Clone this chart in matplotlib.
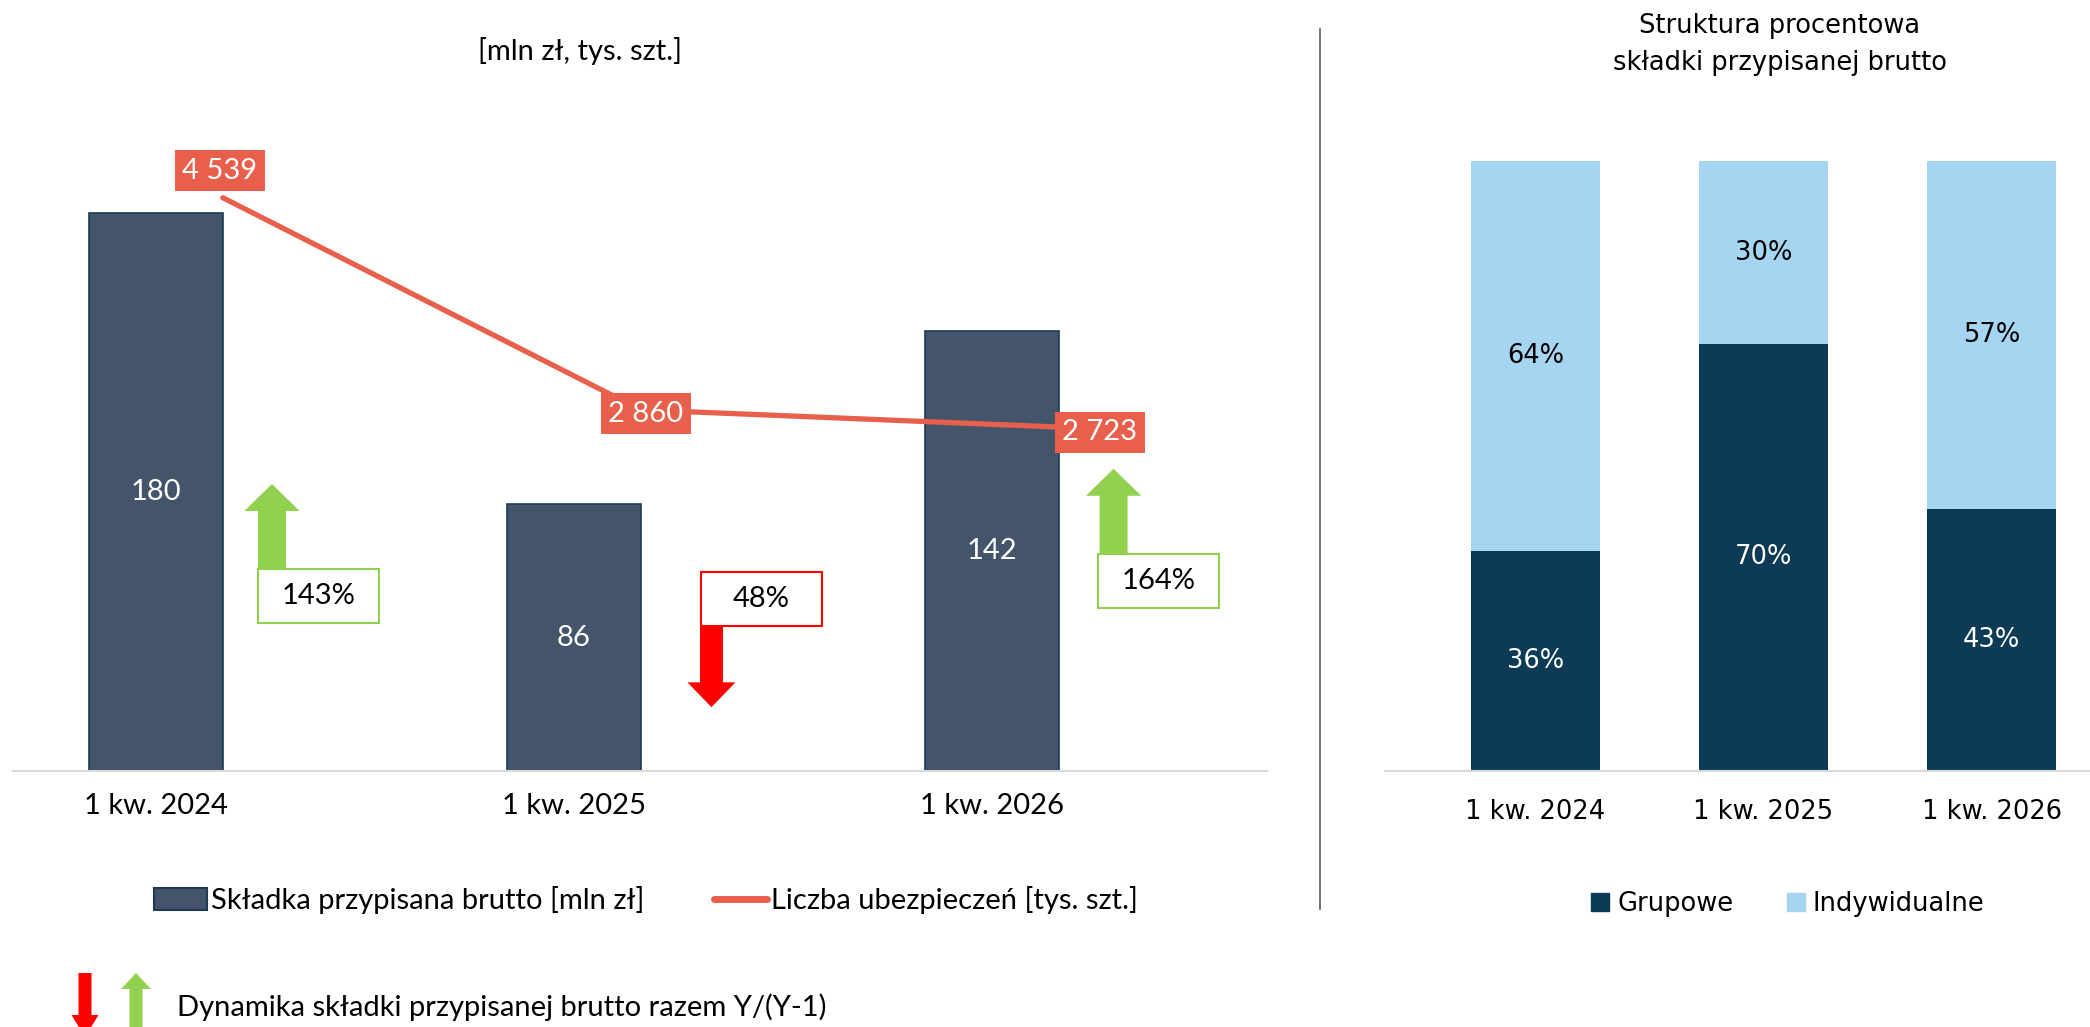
import matplotlib.pyplot as plt
import matplotlib.patches as mpatches
from matplotlib.lines import Line2D
import numpy as np

plt.rcParams['font.family'] = ['Lato', 'DejaVu Sans']

W, H = 2090, 1027

# data
periods = ['1 kw. 2024', '1 kw. 2025', '1 kw. 2026']
premium = [180, 86, 142]            # składka przypisana brutto [mln zł]
policies = [4539, 2860, 2723]       # liczba ubezpieczeń [tys. szt.]
dynamics = [143, 48, 164]           # dynamika składki Y/(Y-1) [%]
group_share = [36, 70, 43]          # grupowe [%]
indiv_share = [64, 30, 57]          # indywidualne [%]

BAR = '#44546A'
BAR_EDGE = '#1F3A55'
LINE = '#E8604C'
GREEN = '#92D050'
RED = '#FF0000'
DARK = '#0D3A55'
LIGHT = '#A6D5F1'
FS = 21      # left chart text
FSR = 18.5   # right chart text


def fmt(v):
    return f'{v:,}'.replace(',', ' ')


def px_axes(x0, y0, x1, y1):
    return fig.add_axes([x0 / W, 1 - y1 / H, (x1 - x0) / W, (y1 - y0) / H])


fig = plt.figure(figsize=(W / 100, H / 100), dpi=100)

# overlay in pixel coords for notes / separator
ov = fig.add_axes([0, 0, 1, 1])
ov.set_xlim(0, W)
ov.set_ylim(H, 0)
ov.axis('off')

# ---- left chart ----
ax = px_axes(13, 90, 1267, 771)
x = np.arange(len(periods))
ax.bar(x, premium, width=0.32, color=BAR, edgecolor=BAR_EDGE, linewidth=1.2, zorder=2)
ax.set_xlim(-0.342, 2.658)
ax.set_ylim(0, 219.7)
for s in ['top', 'left', 'right']:
    ax.spines[s].set_visible(False)
ax.spines['bottom'].set_color('#D9D9D9')
ax.spines['bottom'].set_linewidth(1.5)
ax.set_yticks([])
ax.set_xticks(x, periods, fontsize=FS)
ax.tick_params(axis='x', length=0, pad=16)
for i, v in enumerate(premium):
    ax.text(i, v / 2, str(v), color='white', ha='center', va='center', fontsize=FS, zorder=3)

# dynamics boxes + arrows (offsets from category centre)
arrow_off = [0.2775, 0.329, 0.291]
box_left = [0.244, 0.303, 0.254]
box_bottom = [47.7, 46.8, 52.6]
box_w, box_h = 0.29, 17.4
for i, d in enumerate(dynamics):
    up = d >= 100
    col = GREEN if up else RED
    bx, by = i + box_left[i], box_bottom[i]
    ax.add_patch(mpatches.Rectangle((bx, by), box_w, box_h, facecolor='white',
                                    edgecolor=col, linewidth=1.5, zorder=4))
    ax.text(bx + box_w / 2, by + box_h / 2, f'{d}%', ha='center', va='center',
            fontsize=FS, zorder=5)
    ax_x = i + arrow_off[i]
    if up:
        ax.add_patch(mpatches.FancyArrow(ax_x, by + box_h, 0, 27.5, width=0.067,
                                         head_width=0.132, head_length=8.7,
                                         length_includes_head=True, color=col,
                                         linewidth=0, zorder=4))
    else:
        ax.add_patch(mpatches.FancyArrow(ax_x, by, 0, -26.2, width=0.055,
                                         head_width=0.115, head_length=8.0,
                                         length_includes_head=True, color=col,
                                         linewidth=0, zorder=4))

ax2 = ax.twinx()
ax2.set_ylim(0, 5392)
ax2.axis('off')
ax2.plot(x + 0.16, policies, color=LINE, lw=3.8, solid_capstyle='round', zorder=3)
label_off = [(-3, 27), (5, -4), (41, -5)]
for i, v in enumerate(policies):
    ax2.annotate(fmt(v), (i + 0.16, v), xytext=label_off[i], textcoords='offset pixels',
                 ha='center', va='center', color='white', fontsize=FS, zorder=6,
                 bbox=dict(boxstyle='square,pad=0.26', fc=LINE, ec='none'))

fig.text(580 / W, 1 - 51 / H, '[mln zł, tys. szt.]', ha='center', va='center', fontsize=FS)

h1 = [mpatches.Patch(facecolor=BAR, edgecolor=BAR_EDGE, linewidth=1.5),
      Line2D([], [], color=LINE, lw=5, solid_capstyle='round')]
fig.legend(h1, ['Składka przypisana brutto [mln zł]', 'Liczba ubezpieczeń [tys. szt.]'],
           loc='center', bbox_to_anchor=(646 / W, 1 - 900 / H), ncol=2, frameon=False,
           fontsize=FS, handlelength=1.8, handleheight=0.75, handletextpad=0.15,
           columnspacing=2.4)

# note at the bottom
ov.add_patch(mpatches.FancyArrow(85, 973, 0, 64, width=13, head_width=27, head_length=22,
                                 length_includes_head=True, color=RED, linewidth=0))
ov.add_patch(mpatches.FancyArrow(136, 1040, 0, -67, width=13, head_width=30, head_length=16,
                                 length_includes_head=True, color=GREEN, linewidth=0))
ov.text(177, 1007, 'Dynamika składki przypisanej brutto razem Y/(Y-1)', va='center',
        fontsize=FS)

# separator
ov.plot([1320, 1320], [29, 909], color='#595959', lw=1.2)

# ---- right chart ----
axr = px_axes(1385, 161, 2090, 771)
axr.bar(x, group_share, width=0.566, color=DARK, zorder=2)
axr.bar(x, indiv_share, width=0.566, bottom=group_share, color=LIGHT, zorder=2)
axr.set_xlim(-0.66, 2.432)
axr.set_ylim(0, 100)
for s in ['top', 'left', 'right']:
    axr.spines[s].set_visible(False)
axr.spines['bottom'].set_color('#D9D9D9')
axr.spines['bottom'].set_linewidth(1.5)
axr.set_yticks([])
axr.set_xticks(x, periods, fontsize=FSR, family='DejaVu Sans')
axr.tick_params(axis='x', length=0, pad=20)
for i in range(len(periods)):
    g, ind = group_share[i], indiv_share[i]
    axr.text(i, g / 2, f'{g}%', color='white', ha='center', va='center', fontsize=FSR,
             family='DejaVu Sans')
    axr.text(i, g + ind / 2, f'{ind}%', color='black', ha='center', va='center',
             fontsize=FSR, family='DejaVu Sans')

fig.text(1780 / W, 1 - 26 / H, 'Struktura procentowa', ha='center', va='center',
         fontsize=FSR, family='DejaVu Sans')
fig.text(1780 / W, 1 - 63 / H, 'składki przypisanej brutto', ha='center', va='center',
         fontsize=FSR, family='DejaVu Sans')

h2 = [mpatches.Patch(color=DARK), mpatches.Patch(color=LIGHT)]
fig.legend(h2, ['Grupowe', 'Indywidualne'], loc='center',
           bbox_to_anchor=(1788 / W, 1 - 904 / H), ncol=2, frameon=False,
           prop={'family': 'DejaVu Sans', 'size': FSR}, handlelength=0.68,
           handleheight=0.68, handletextpad=0.32, columnspacing=2.1)

fig.savefig('out.png', dpi=100)
